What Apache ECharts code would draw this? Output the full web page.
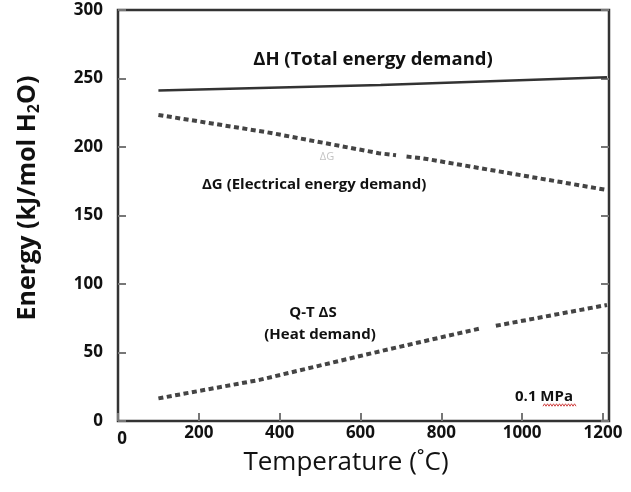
<!DOCTYPE html>
<html>
<head>
<meta charset="utf-8">
<style>
  html, body { margin: 0; padding: 0; background: #fff; }
  #chart { width: 631px; height: 492px; }
</style>
<script src="https://cdn.jsdelivr.net/npm/echarts@6/dist/echarts.min.js"></script>
</head>
<body>
<div id="chart"></div>
<script>
// Energy demand of steam electrolysis vs temperature at 0.1 MPa
var xTicks = [0, 200, 400, 600, 800, 1000, 1200];
var yTicks = [0, 50, 100, 150, 200, 250, 300];

// [temperature °C, kJ/mol H2O]; '-' marks a break in the line
var totalEnergy = [[100, 241.2], [650, 245.3], [1210, 251.0]];
var electricalEnergy = [[100, 223.4], [370, 210.7], [645, 195.5], [688, 194.0], [700, '-'], [714, 193.0], [755, 191.7], [1210, 168.6]];
var heatEnergy = [[100, 16.5], [350, 30.0], [650, 51.0], [895, 67.5], [915, '-'], [935, 69.5], [1210, 84.7]];

var FONT = '"Open Sans", sans-serif';
var chart = echarts.init(document.getElementById('chart'));

// red wavy underline under "MPa"
var wave = [];
for (var i = 0; i <= 22; i++) {
  wave.push([543 + i * 1.5, 405 + (i % 2 ? -1.2 : 1.2)]);
}

var tickStyle = { show: true, inside: true, length: 8, lineStyle: { color: '#777', width: 2 } };

chart.setOption({
  animation: false,
  backgroundColor: '#fff',
  grid: {
    left: 118, top: 10, right: 22, bottom: 71,
    show: true, borderColor: '#333', borderWidth: 2.5, backgroundColor: 'transparent'
  },
  xAxis: {
    type: 'value', min: 0, max: 1215, interval: 200,
    axisLine: { show: false },
    axisTick: tickStyle,
    splitLine: { show: false },
    axisLabel: {
      showMaxLabel: false,
      margin: 4,
      color: '#111', fontFamily: FONT, fontWeight: 'bold', fontSize: 17,
      formatter: function (v) { return xTicks.indexOf(v) >= 0 ? (v === 0 ? '{z|0}' : String(v)) : ''; },
      rich: { z: { padding: [6, 0, 0, 8], color: '#111', fontFamily: FONT, fontWeight: 'bold', fontSize: 17 } }
    }
  },
  yAxis: [{
    type: 'value', min: 0, max: 300, interval: 50,
    axisLine: { show: false },
    axisTick: tickStyle,
    splitLine: { show: false },
    axisLabel: {
      margin: 15,
      color: '#111', fontFamily: FONT, fontWeight: 'bold', fontSize: 17,
      formatter: function (v) { return yTicks.indexOf(v) >= 0 ? String(v) : ''; }
    }
  }, {
    type: 'value', min: 0, max: 300, interval: 50, position: 'right',
    axisLine: { show: false },
    axisTick: tickStyle,
    axisLabel: { show: false },
    splitLine: { show: false }
  }],
  series: [{
    name: 'ΔH (Total energy demand)',
    type: 'line', data: totalEnergy, showSymbol: false, connectNulls: false,
    lineStyle: { color: '#333', width: 2.5 }
  }, {
    name: 'ΔG (Electrical energy demand)',
    type: 'line', data: electricalEnergy, showSymbol: false, connectNulls: false,
    lineStyle: { color: '#444', width: 4, type: [5, 3.5] }
  }, {
    name: 'Q-T ΔS (Heat demand)',
    type: 'line', data: heatEnergy, showSymbol: false, connectNulls: false,
    lineStyle: { color: '#444', width: 4, type: [5, 3.5] }
  }],
  graphic: [{
    type: 'text', x: 28, y: 198, rotation: Math.PI / 2,
    style: {
      text: '{a|Energy (kJ/mol H}{s|2}{a|O)}',
      align: 'center', verticalAlign: 'middle',
      rich: {
        a: { fontFamily: FONT, fontWeight: 'bold', fontSize: 25, fill: '#111' },
        s: { fontFamily: FONT, fontWeight: 'bold', fontSize: 16, fill: '#111', padding: [12, 0, 0, 0] }
      }
    }
  }, {
    type: 'text', x: 346, y: 463,
    style: { text: 'Temperature (˚C)', align: 'center', verticalAlign: 'middle',
      font: '500 26px ' + FONT, fill: '#111' }
  }, {
    type: 'text', x: 373, y: 60,
    style: { text: 'ΔH (Total energy demand)', align: 'center', verticalAlign: 'middle',
      font: 'bold 18.5px ' + FONT, fill: '#111' }
  }, {
    type: 'text', x: 202, y: 185,
    style: { text: 'ΔG (Electrical energy demand)', align: 'left', verticalAlign: 'middle',
      font: 'bold 15px ' + FONT, fill: '#111' }
  }, {
    type: 'text', x: 327, y: 157,
    style: { text: 'ΔG', align: 'center', verticalAlign: 'middle',
      font: '11px ' + FONT, fill: '#c4c4c4' }
  }, {
    type: 'text', x: 313, y: 313,
    style: { text: 'Q-T ΔS', align: 'center', verticalAlign: 'middle',
      font: 'bold 15px ' + FONT, fill: '#111' }
  }, {
    type: 'text', x: 320, y: 335,
    style: { text: '(Heat demand)', align: 'center', verticalAlign: 'middle',
      font: 'bold 15px ' + FONT, fill: '#111' }
  }, {
    type: 'text', x: 544, y: 397,
    style: { text: '0.1 MPa', align: 'center', verticalAlign: 'middle',
      font: 'bold 15px ' + FONT, fill: '#111' }
  }, {
    type: 'polyline', shape: { points: wave },
    style: { stroke: '#d04040', lineWidth: 1, fill: null }
  }]
});
</script>
</body>
</html>
